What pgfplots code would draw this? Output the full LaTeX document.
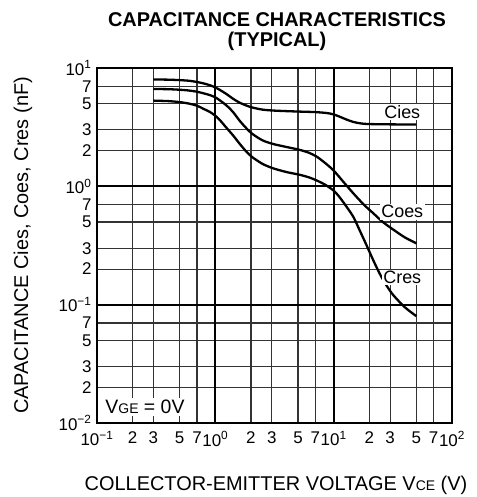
\documentclass[border=0pt]{standalone}
\usepackage{pgfplots}
\pgfplotsset{compat=1.18}
\usepackage{fontspec}
\setmainfont{Liberation Sans}
\newcommand{\sm}[1]{{\fontsize{14}{14}\selectfont #1}}
\begin{document}
\begin{tikzpicture}
\path[use as bounding box] (0,0) rectangle (477bp,497bp);
\begin{axis}[
  at={(97bp,74bp)}, anchor=south west,
  width=355bp, height=355bp, scale only axis,
  xmode=log, ymode=log,
  xmin=0.1, xmax=100, ymin=0.01, ymax=10,
  xtick={0.1,0.2,0.3,0.5,0.7,1,2,3,5,7,10,20,30,50,70,100},
  xticklabels={10\textsuperscript{−1},2,3,5,7,10\textsuperscript{0},2,3,5,7,10\textsuperscript{1},2,3,5,7,10\textsuperscript{2}},
  ytick={0.01,0.02,0.03,0.05,0.07,0.1,0.2,0.3,0.5,0.7,1,2,3,5,7,10},
  yticklabels={10\textsuperscript{−2},2,3,5,7,10\textsuperscript{−1},2,3,5,7,10\textsuperscript{0},2,3,5,7,10\textsuperscript{1}},
  minor tick num=0,
  xtick style={draw=none}, ytick style={draw=none},
  xmajorgrids=true, ymajorgrids=true,
  major grid style={draw=black!80, line width=1.1bp},
  extra x ticks={1,10}, extra y ticks={0.1,1},
  extra x tick labels={}, extra y tick labels={},
  extra x tick style={xmajorgrids=true, major grid style={draw=black, line width=1.8bp}},
  extra y tick style={ymajorgrids=true, major grid style={draw=black, line width=1.8bp}},
  axis line style={line width=2.4bp},
  tick label style={font=\fontsize{17}{17}\selectfont},
  xticklabel style={yshift=-5bp},
  yticklabel style={xshift=-2bp},
]
\addplot[black, line width=2.3bp, smooth, tension=0.5] coordinates {
(0.3,8.0) (0.4,7.97) (0.5,7.9) (0.6,7.8) (0.7,7.62) (0.8,7.4) (0.9,7.15) (1.0,6.85) (1.1,6.5) (1.25,6.0) (1.41,5.5) (1.6,5.1) (1.8,4.85) (2.03,4.65) (2.5,4.45) (3.08,4.37) (4,4.32) (5.2,4.28) (7,4.24) (8.8,4.16) (10,4.05) (11.3,3.87) (13,3.65) (14.7,3.5) (17,3.4) (20,3.36) (30,3.34) (50,3.33)};
\addplot[black, line width=2.3bp, smooth, tension=0.5] coordinates {
(0.3,6.65) (0.4,6.62) (0.5,6.55) (0.6,6.45) (0.7,6.3) (0.8,6.1) (0.9,5.9) (1.0,5.65) (1.1,5.3) (1.25,4.8) (1.41,4.25) (1.6,3.6) (1.8,3.15) (2.03,2.8) (2.5,2.45) (3.08,2.28) (4,2.15) (5.2,2.03) (6.2,1.92) (7.2,1.78) (8.5,1.57) (10,1.36) (12,1.1) (14.7,0.87) (18,0.7) (21.7,0.59) (26,0.5) (32,0.43) (40,0.37) (50,0.33)};
\addplot[black, line width=2.3bp, smooth, tension=0.5] coordinates {
(0.3,5.3) (0.4,5.25) (0.5,5.15) (0.6,5.0) (0.7,4.8) (0.8,4.5) (0.9,4.25) (1.0,3.95) (1.1,3.6) (1.25,3.1) (1.41,2.7) (1.6,2.3) (1.8,2.0) (2.03,1.78) (2.5,1.55) (3.08,1.42) (4,1.32) (5.2,1.25) (6.2,1.19) (7.2,1.12) (8.5,1.03) (10,0.92) (11,0.83) (12,0.74) (13.3,0.64) (14.7,0.55) (16.5,0.43) (18.9,0.32) (21.5,0.24) (24.7,0.18) (28,0.145) (32,0.12) (40,0.095) (50,0.080)};
\node[fill=white, inner sep=1.5bp, font=\fontsize{18}{18}\selectfont] at (axis cs:38,4.25) {Cies};
\node[fill=white, inner sep=1.5bp, font=\fontsize{18}{18}\selectfont] at (axis cs:38,0.61) {Coes};
\node[fill=white, inner sep=1.5bp, font=\fontsize{18}{18}\selectfont] at (axis cs:38,0.17) {Cres};
\node[fill=white, inner sep=2bp, anchor=west, font=\fontsize{19.5}{19.5}\selectfont] at (axis cs:0.113,0.0136) {V\sm{GE} = 0V};
\end{axis}
\node[font=\bfseries\fontsize{20}{20}\selectfont] at (277bp,477bp) {CAPACITANCE CHARACTERISTICS};
\node[font=\bfseries\fontsize{20}{20}\selectfont] at (277bp,456bp) {(TYPICAL)};
\node[font=\fontsize{20}{20}\selectfont] at (276bp,12bp) {COLLECTOR-EMITTER VOLTAGE V\sm{CE} (V)};
\node[rotate=90, font=\fontsize{20}{20}\selectfont] at (23bp,251.5bp) {CAPACITANCE Cies, Coes, Cres (nF)};
\end{tikzpicture}
\end{document}
